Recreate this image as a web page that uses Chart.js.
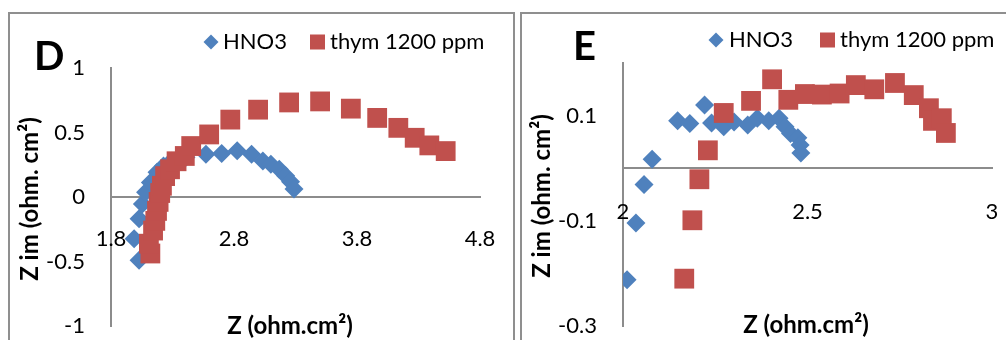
<!DOCTYPE html>
<html>

<head>
    <meta charset="utf-8">
    <script src="https://cdn.jsdelivr.net/npm/chart.js@4.4.0/dist/chart.umd.min.js"></script>
    <style>
        body {
            margin: 0;
            background: #fff;
        }

        #wrap {
            position: relative;
            width: 1006px;
            height: 340px;
            overflow: hidden;
        }

        .frame {
            position: absolute;
            top: 12px;
            height: 340px;
            border-top: 2px solid #8f8f8f;
            border-left: 2px solid #8f8f8f;
        }

        #frameD {
            left: 8px;
            width: 503px;
            border-right: 2px solid #8f8f8f;
        }

        #frameE {
            left: 520px;
            width: 500px;
        }

        canvas {
            position: absolute;
            top: 0;
        }

        #chartD {
            left: 0;
        }

        #chartE {
            left: 516px;
        }
    </style>
</head>

<body>
    <div id="wrap">
        <div class="frame" id="frameD"></div>
        <div class="frame" id="frameE"></div>
        <canvas id="chartD" width="516" height="340"></canvas>
        <canvas id="chartE" width="490" height="340"></canvas>
    </div>
    <script>
        const seriesNames = ['HNO3', 'thym 1200 ppm'];

        // panel D1
        const d1HnoZ = [2.028, 1.988, 2.028, 2.055, 2.081, 2.12, 2.174, 2.227, 2.29, 2.41, 2.572, 2.70, 2.826, 2.943, 3.035, 3.10, 3.168, 3.22, 3.26, 3.288];
        const d1HnoZim = [-0.49, -0.323, -0.169, -0.054, 0.036, 0.113, 0.192, 0.241, 0.277, 0.308, 0.331, 0.338, 0.358, 0.331, 0.279, 0.254, 0.215, 0.164, 0.118, 0.062];
        const d1ThymZ = [2.12, 2.108, 2.142, 2.16, 2.174, 2.187, 2.20, 2.214, 2.24, 2.28, 2.333, 2.40, 2.452, 2.598, 2.77, 2.996, 3.248, 3.50, 3.75, 3.964, 4.136, 4.269, 4.388, 4.521];
        const d1ThymZim = [-0.438, -0.362, -0.26, -0.185, -0.108, -0.038, 0.031, 0.087, 0.162, 0.215, 0.277, 0.318, 0.395, 0.485, 0.60, 0.677, 0.733, 0.741, 0.685, 0.613, 0.536, 0.459, 0.40, 0.356];
        const d1XTicks = [1.8, 2.8, 3.8, 4.8];
        const d1YTicks = [-1, -0.5, 0, 0.5, 1];

        // panel E
        const eHnoZ = [2.011, 2.035, 2.057, 2.079, 2.148, 2.181, 2.221, 2.24, 2.273, 2.301, 2.338, 2.364, 2.395, 2.423, 2.439, 2.454, 2.474, 2.48, 2.482];
        const eHnoZim = [-0.212, -0.104, -0.031, 0.017, 0.09, 0.085, 0.12, 0.086, 0.079, 0.088, 0.082, 0.095, 0.09, 0.095, 0.079, 0.066, 0.058, 0.044, 0.029];
        const eThymZ = [2.166, 2.188, 2.207, 2.23, 2.273, 2.347, 2.404, 2.448, 2.493, 2.539, 2.587, 2.631, 2.681, 2.737, 2.788, 2.829, 2.84, 2.864, 2.875];
        const eThymZim = [-0.21, -0.099, -0.021, 0.034, 0.105, 0.128, 0.169, 0.13, 0.141, 0.14, 0.142, 0.158, 0.15, 0.162, 0.139, 0.114, 0.09, 0.095, 0.067];
        const eXTicks = [2, 2.5, 3];
        const eYTicks = [-0.3, -0.1, 0.1];

        const BLUE = '#4F81BD';
        const RED = '#C0504D';
        const AXIS = '#8c8c8c';
        const FONT = 'Lato, "Liberation Sans", sans-serif';

        function zip(xs, ys) {
            return xs.map((x, i) => ({ x: x, y: ys[i] }));
        }

        // tick labels, axis titles, legend and panel letter are all drawn here
        const panelText = {
            id: 'panelText',
            beforeDatasetsDraw(chart, args, o) {
                const { ctx, chartArea, scales: { x, y } } = chart;
                ctx.save();
                ctx.fillStyle = '#000';
                ctx.font = '22px ' + FONT;
                ctx.textBaseline = 'middle';
                ctx.textAlign = 'center';
                const yRow = y.getPixelForValue(0) + o.xLabelDrop;
                o.xTicks.forEach(v => ctx.fillText(String(v), x.getPixelForValue(v), yRow));
                ctx.textAlign = 'right';
                o.yTicks.forEach(v => ctx.fillText(String(v), chartArea.left - 26, y.getPixelForValue(v)));
                ctx.restore();
            },
            afterDatasetsDraw(chart, args, o) {
                const ctx = chart.ctx;
                ctx.save();
                ctx.fillStyle = '#000';

                // axis titles
                ctx.font = 'bold 24px ' + FONT;
                ctx.textAlign = 'center';
                ctx.textBaseline = 'middle';
                ctx.fillText('Z (ohm.cm²)', o.xTitle[0], o.xTitle[1]);
                ctx.save();
                ctx.translate(o.yTitle[0], o.yTitle[1]);
                ctx.rotate(-Math.PI / 2);
                ctx.fillText('Z im (ohm. cm²)', 0, 0);
                ctx.restore();

                // panel letter
                ctx.font = 'bold 40px ' + FONT;
                ctx.textAlign = 'left';
                ctx.textBaseline = 'alphabetic';
                ctx.fillText(o.letter, o.letterAt[0], o.letterAt[1]);

                // legend
                const lg = o.legend;
                ctx.font = '22px ' + FONT;
                ctx.textBaseline = 'middle';
                ctx.fillStyle = BLUE;
                ctx.beginPath();
                ctx.moveTo(lg.diamond - 7.5, lg.y);
                ctx.lineTo(lg.diamond, lg.y - 7.5);
                ctx.lineTo(lg.diamond + 7.5, lg.y);
                ctx.lineTo(lg.diamond, lg.y + 7.5);
                ctx.closePath();
                ctx.fill();
                ctx.fillStyle = RED;
                ctx.fillRect(lg.square - 7.5, lg.y - 7.5, 15, 15);
                ctx.fillStyle = '#000';
                ctx.fillText(seriesNames[0], lg.text1, lg.y);
                ctx.fillText(seriesNames[1], lg.text2, lg.y);
                ctx.restore();
            }
        };

        function makeChart(id, p) {
            return new Chart(document.getElementById(id), {
                type: 'scatter',
                data: {
                    datasets: [
                        {
                            label: seriesNames[0],
                            data: zip(p.hnoZ, p.hnoZim),
                            pointStyle: 'rectRot',
                            pointRadius: 9.5,
                            pointHoverRadius: 9.5,
                            backgroundColor: BLUE,
                            borderWidth: 0,
                            order: 1
                        },
                        {
                            label: seriesNames[1],
                            data: zip(p.thymZ, p.thymZim),
                            pointStyle: 'rect',
                            pointRadius: 14,
                            pointHoverRadius: 14,
                            backgroundColor: RED,
                            borderWidth: 0,
                            order: 0
                        }
                    ]
                },
                options: {
                    responsive: false,
                    animation: false,
                    layout: { padding: p.pad },
                    plugins: {
                        legend: { display: false },
                        tooltip: { enabled: false },
                        panelText: p.text
                    },
                    scales: {
                        x: {
                            type: 'linear',
                            min: p.xRange[0],
                            max: p.xRange[1],
                            position: { y: 0 },
                            grid: { display: false },
                            border: { display: true, color: AXIS, width: 2 },
                            ticks: { display: false }
                        },
                        y: {
                            type: 'linear',
                            min: p.yRange[0],
                            max: p.yRange[1],
                            position: 'left',
                            grid: { display: false },
                            border: { display: true, color: AXIS, width: 2 },
                            ticks: { display: false }
                        }
                    }
                },
                plugins: [panelText]
            });
        }

        makeChart('chartD', {
            hnoZ: d1HnoZ, hnoZim: d1HnoZim, thymZ: d1ThymZ, thymZim: d1ThymZim,
            xRange: [1.8, 4.8], yRange: [-1, 1],
            pad: { left: 103, right: 36, top: 68, bottom: 12 },
            text: {
                xTicks: d1XTicks, yTicks: d1YTicks, xLabelDrop: 42,
                xTitle: [290, 326], yTitle: [30, 199],
                letter: 'D', letterAt: [34, 70],
                legend: { diamond: 211, text1: 223, square: 317.5, text2: 330, y: 42 }
            }
        });

        makeChart('chartE', {
            hnoZ: eHnoZ, hnoZim: eHnoZim, thymZ: eThymZ, thymZim: eThymZim,
            xRange: [2, 3], yRange: [-0.3, 0.2],
            pad: { left: 99, right: 9, top: 63, bottom: 14 },
            text: {
                xTicks: eXTicks, yTicks: eYTicks, xLabelDrop: 44,
                xTitle: [290, 325], yTitle: [26, 196],
                letter: 'E', letterAt: [57, 60],
                legend: { diamond: 200, text1: 213, square: 311.5, text2: 324, y: 40 }
            }
        });
    </script>
</body>

</html>
